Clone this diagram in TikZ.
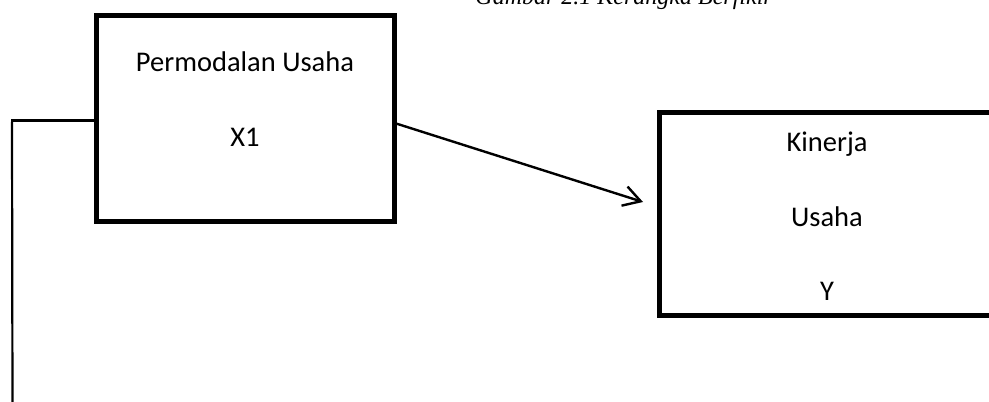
\documentclass[tikz,border=0pt]{standalone}
\usepackage{fontspec}
\setmainfont{Carlito}
\newfontfamily\titlefont{Liberation Serif}
\usetikzlibrary{arrows.meta}
\begin{document}
\begin{tikzpicture}[x=1pt,y=-1pt,
  boxstyle/.style={draw=black,line width=5pt,inner sep=0pt,outer sep=0pt,fill=none},
  lbl/.style={anchor=base,inner sep=0pt,font=\fontsize{28.5}{31}\selectfont},
  arr/.style={line width=2.4pt,-{Straight Barb[length=17pt,width=20pt,line width=2.4pt]}},
  conn/.style={line width=3pt},
  connv/.style={line width=2.2pt}]
\useasboundingbox (0,0) rectangle (989,402);
\clip (0,0) rectangle (989,402);
% title (cut at top)
\node[anchor=base east,inner sep=0pt,font=\titlefont\itshape\fontsize{24}{26}\selectfont] (title) at (773,4.5) {Gambar 2.1 Kerangka Berfikir};
% boxes
\node[boxstyle,minimum width=298pt,minimum height=206pt] (lbox) at (245.5,118) {};
\node[boxstyle,minimum width=336pt,minimum height=203pt] (rbox) at (827,214) {};
% labels
\node[lbl] (l1) at (245,71) {Permodalan Usaha};
\node[lbl] (l2) at (245,146.7) {X1};
\node[lbl] (r1) at (827,151.7) {Kinerja};
\node[lbl] (r2) at (827,226.7) {Usaha};
\node[lbl] (r3) at (827,300.7) {Y};
% connectors
\coordinate (a2) at (643,202);
\draw[arr] ([yshift=-5pt]lbox.east) -- (a2);
\coordinate (c1) at (11,120);
\coordinate (c2) at (12,122);
\coordinate (c3) at (12.5,410);
\draw[conn] ([yshift=-2pt]lbox.west) -- (c1);
\draw[connv] (c2) -- (c3);
\end{tikzpicture}
\end{document}
